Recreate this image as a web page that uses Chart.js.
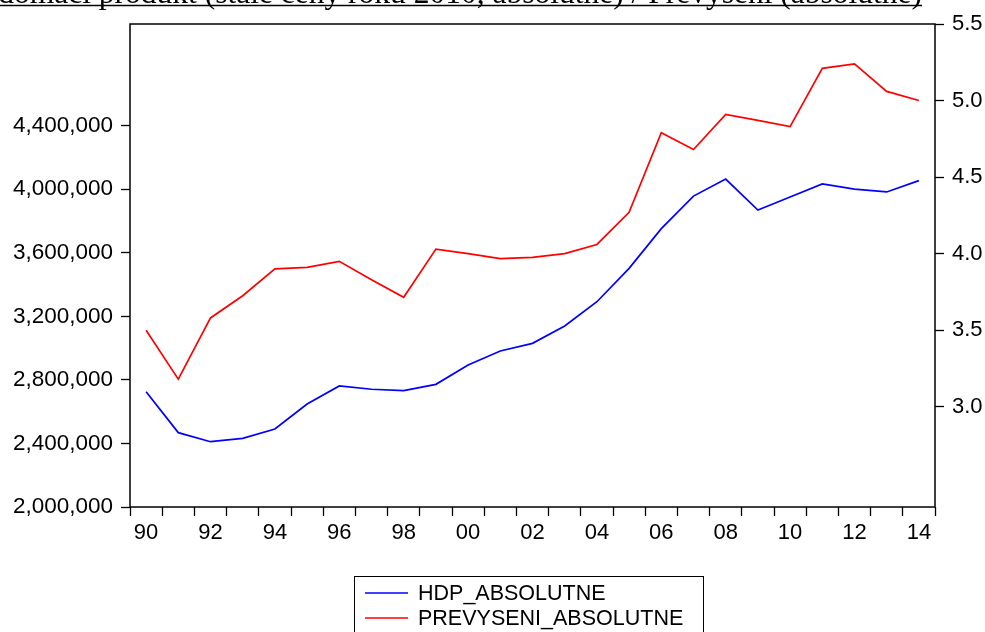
<!DOCTYPE html>
<html>
<head>
<meta charset="utf-8">
<script src="https://cdn.jsdelivr.net/npm/chart.js@4/dist/chart.umd.min.js"></script>
<style>
  html, body { margin: 0; padding: 0; background: #fff; }
  #wrap { width: 985px; height: 632px; position: relative; }
</style>
</head>
<body>
<div id="wrap"><canvas id="c"></canvas></div>
<script>
// Years on the horizontal axis
const years = [1990, 1991, 1992, 1993, 1994, 1995, 1996, 1997, 1998, 1999,
               2000, 2001, 2002, 2003, 2004, 2005, 2006, 2007, 2008, 2009,
               2010, 2011, 2012, 2013, 2014];
const yearLabels = ['90', '', '92', '', '94', '', '96', '', '98', '',
                    '00', '', '02', '', '04', '', '06', '', '08', '',
                    '10', '', '12', '', '14'];

// HDP (left axis)
const hdpAbsolutne = [2726000, 2468000, 2411000, 2432000, 2491000, 2648000, 2762000, 2741000, 2732000, 2772000,
                      2894000, 2982000, 3030000, 3139000, 3292000, 3502000, 3752000, 3957000, 4064000, 3869000,
                      3951000, 4033000, 4001000, 3983000, 4054000];
// Převýšení (right axis)
const prevyseniAbsolutne = [3.50, 3.18, 3.58, 3.725, 3.90, 3.91, 3.95, 3.83, 3.715, 4.03,
                            4.00, 3.967, 3.976, 4.00, 4.06, 4.27, 4.79, 4.68, 4.91, 4.87,
                            4.83, 5.21, 5.24, 5.06, 5.00];

const seriesNames = ['HDP_ABSOLUTNE', 'PREVYSENI_ABSOLUTNE'];
const leftTicks = [2000000, 2400000, 2800000, 3200000, 3600000, 4000000, 4400000];
const rightTicks = [3.0, 3.5, 4.0, 4.5, 5.0, 5.5];
const titleText = 'Hrubý domácí produkt (stálé ceny roku 2010, absolutně) / Převýšení (absolutně)';

const SANS = '"Liberation Sans", Arial, sans-serif';
const tickFont = { family: SANS, size: 22 };

const framePlugin = {
  id: 'frame',
  afterDraw(chart) {
    const { ctx, chartArea: a } = chart;
    ctx.save();
    ctx.strokeStyle = '#000';
    ctx.lineWidth = 1.5;
    ctx.strokeRect(a.left, a.top, a.right - a.left, a.bottom - a.top);

    // Heading along the top edge
    ctx.font = '31.5px "Liberation Serif", "Times New Roman", serif';
    ctx.fillStyle = '#000';
    ctx.textAlign = 'right';
    ctx.textBaseline = 'alphabetic';
    const tx = 922, ty = 3;
    ctx.fillText(titleText, tx, ty);
    const w = ctx.measureText(titleText).width;
    ctx.lineWidth = 1.5;
    ctx.beginPath();
    ctx.moveTo(tx - w, 5.5);
    ctx.lineTo(tx, 5.5);
    ctx.stroke();

    // Boxed legend below the axis
    const bx = 354.5, by = 576.5, bw = 349, bh = 80;
    ctx.lineWidth = 1;
    ctx.strokeRect(bx, by, bw, bh);
    ctx.font = '21.5px ' + SANS;
    ctx.textAlign = 'left';
    ctx.textBaseline = 'middle';
    chart.data.datasets.forEach((ds, i) => {
      const y = 593 + i * 25;
      ctx.strokeStyle = ds.borderColor;
      ctx.lineWidth = 1.5;
      ctx.beginPath();
      ctx.moveTo(365, y);
      ctx.lineTo(408, y);
      ctx.stroke();
      ctx.fillStyle = '#000';
      ctx.fillText(ds.label, 418, y + 1);
    });
    ctx.restore();
  }
};

new Chart(document.getElementById('c'), {
  type: 'line',
  data: {
    labels: years,
    datasets: [
      { label: seriesNames[0], data: hdpAbsolutne, yAxisID: 'y',
        borderColor: '#0000ff', borderWidth: 1.7, pointRadius: 0, tension: 0, fill: false },
      { label: seriesNames[1], data: prevyseniAbsolutne, yAxisID: 'y1',
        borderColor: '#ff0000', borderWidth: 1.7, pointRadius: 0, tension: 0, fill: false }
    ]
  },
  options: {
    responsive: true,
    maintainAspectRatio: false,
    animation: false,
    layout: { padding: { top: 24, left: 0, right: 0, bottom: 0 } },
    plugins: { legend: { display: false }, tooltip: { enabled: false }, title: { display: false } },
    scales: {
      x: {
        type: 'category',
        offset: true,
        border: { display: false },
        grid: { offset: true, drawOnChartArea: false, drawTicks: true, tickLength: 9,
                tickColor: '#000', tickWidth: 1.3 },
        ticks: { autoSkip: false, maxRotation: 0, minRotation: 0, padding: 4, color: '#000',
                 font: tickFont, callback: (v, i) => yearLabels[i] },
        afterFit: s => { s.height = 125; }
      },
      y: {
        position: 'left',
        min: 2000000,
        max: 5040000,
        border: { display: false },
        grid: { drawOnChartArea: false, drawTicks: true, tickLength: 9, tickColor: '#000', tickWidth: 1.3 },
        afterBuildTicks: s => { s.ticks = leftTicks.map(v => ({ value: v })); },
        ticks: { padding: 8, color: '#000', font: { family: SANS, size: 22.5 },
                 callback: v => Number(v).toLocaleString('en-US') },
        afterFit: s => { s.width = 130; }
      },
      y1: {
        position: 'right',
        min: 2.345,
        max: 5.5,
        border: { display: false },
        grid: { drawOnChartArea: false, drawTicks: true, tickLength: 9, tickColor: '#000', tickWidth: 1.3 },
        afterBuildTicks: s => { s.ticks = rightTicks.map(v => ({ value: v })); },
        ticks: { padding: 8, color: '#000', font: tickFont,
                 callback: v => Number(v).toFixed(1) },
        afterFit: s => { s.width = 50; }
      }
    }
  },
  plugins: [framePlugin]
});
</script>
</body>
</html>
